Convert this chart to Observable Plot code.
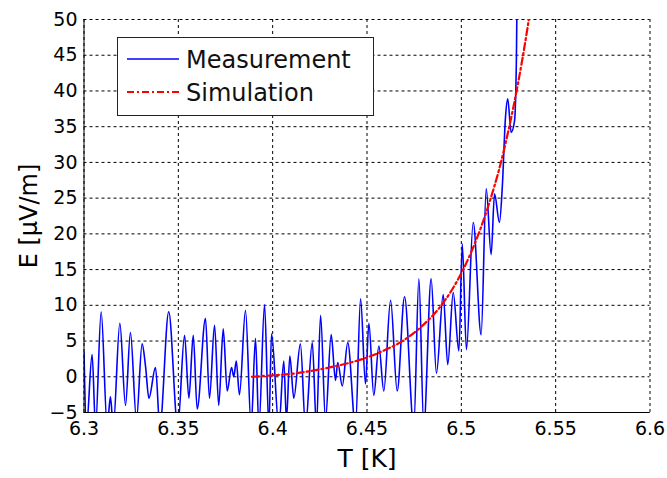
<!DOCTYPE html>
<html>
<head>
<meta charset="utf-8">
<script src="https://cdn.jsdelivr.net/npm/d3@7"></script>
<script src="https://cdn.jsdelivr.net/npm/@observablehq/plot@0.6"></script>
<style>
  html, body { margin: 0; padding: 0; background: #fff; }
  #chart svg { display: block; }
</style>
</head>
<body>
<div id="chart"></div>
<script>
const measT = [
  6.3000, 6.3013, 6.3043, 6.3061, 6.3091, 6.3123, 6.3140, 6.3155, 6.3190, 6.3220,
  6.3246, 6.3278, 6.3308, 6.3326, 6.3344, 6.3379, 6.3402, 6.3449, 6.3497, 6.3533,
  6.3556, 6.3579, 6.3600, 6.3644, 6.3665, 6.3692, 6.3714, 6.3738, 6.3759, 6.3782,
  6.3794, 6.3807, 6.3824, 6.3856, 6.3886, 6.3909, 6.3927, 6.3957, 6.3980, 6.3994,
  6.4033, 6.4059, 6.4073, 6.4091, 6.4112, 6.4147, 6.4174, 6.4210, 6.4232, 6.4254,
  6.4280, 6.4310, 6.4333, 6.4345, 6.4369, 6.4398, 6.4439, 6.4466, 6.4492, 6.4510,
  6.4536, 6.4563, 6.4589, 6.4625, 6.4660, 6.4699, 6.4748, 6.4775, 6.4801, 6.4840,
  6.4868, 6.4904, 6.4928, 6.4957, 6.4987, 6.5005, 6.5027, 6.5063, 6.5105, 6.5132,
  6.5158, 6.5176, 6.5202, 6.5217, 6.5234, 6.5246, 6.5264, 6.5282, 6.5292, 6.5296
];
const measE = [
  3.4, -7, 3.1, -7, 9.1, -7, -2.8, -7, 7.5, -4,
  6.2, -6, 4.6, 1.5, -3, 1.3, -7, 9.1, -7, 5.8,
  -3, 5.8, -4.5, 8.2, -3, 7.2, -4, 6.7, -2, 1.3,
  0, 2.2, -2.5, 9.3, -7, 5.4, -7, 10.1, -7, 6.0,
  -7, 2.2, -6, 2.9, -3, 4.6, -7, 4.8, -7, 8.6,
  -6, 5.9, -0.5, 2, -1.3, 4.8, -7, 10.9, -1, 7.5,
  -2.6, 4.3, -2, 10.7, -2, 11.2, -7, 13.7, -7, 13.7,
  0.5, 11.5, 1.7, 11.8, 3.6, 18.6, 3.8, 21.6, 5.9, 26.3,
  17.1, 25.6, 21.6, 26.5, 36.3, 38.9, 34.2, 35.8, 44.7, 55
];

// Simulation
const simT = [6.389, 6.40, 6.41, 6.42, 6.43, 6.44, 6.45, 6.46, 6.47, 6.48, 6.49, 6.50, 6.505, 6.51, 6.515, 6.52, 6.525, 6.53, 6.535, 6.538];
const simE = [0, 0.2, 0.4, 0.8, 1.3, 1.9, 2.7, 3.8, 5.2, 7.3, 10.2, 14.5, 17.3, 20.6, 24.5, 29.0, 34.5, 41.0, 48.7, 54];

const xTicks = [6.3, 6.35, 6.4, 6.45, 6.5, 6.55, 6.6];
const yTicks = [-5, 0, 5, 10, 15, 20, 25, 30, 35, 40, 45, 50];
const seriesNames = ["Measurement", "Simulation"];
const xLabel = "T [K]";
const yLabel = "E [\u03BCV/m]";

const meas = measT.map((t, i) => ({T: t, E: measE[i]}));
const sim = simT.map((t, i) => ({T: t, E: simE[i]}));

const FONT = "DejaVu Sans";
const chart = Plot.plot({
  width: 667,
  height: 478,
  marginLeft: 83.5,
  marginRight: 17.5,
  marginTop: 19,
  marginBottom: 66,
  style: {fontFamily: FONT, background: "#fff", color: "#000"},
  x: {domain: [6.3, 6.6]},
  y: {domain: [-5, 50]},
  marks: [
    Plot.gridX(xTicks, {stroke: "#000", strokeOpacity: 1, strokeDasharray: "3,3"}),
    Plot.gridY(yTicks, {stroke: "#000", strokeOpacity: 1, strokeDasharray: "3,3"}),
    Plot.line(meas, {x: "T", y: "E", stroke: "#0000ff", strokeWidth: 1.6, curve: "monotone-x", clip: true}),
    Plot.line(sim, {x: "T", y: "E", stroke: "#ff0000", strokeWidth: 2.2, strokeDasharray: "7,3,2,3", curve: "monotone-x", clip: true}),
    Plot.ruleX([6.3], {stroke: "#000", strokeWidth: 1}),
    Plot.ruleY([-5], {stroke: "#000", strokeWidth: 1}),
    Plot.axisX(xTicks, {tickSize: 0, tickPadding: 9, fontSize: 19, label: null,
      tickFormat: d => String(+d.toFixed(2))}),
    Plot.axisY(yTicks, {tickSize: 0, tickPadding: 6.5, fontSize: 19, label: null}),
    Plot.text([xLabel], {frameAnchor: "bottom", lineAnchor: "middle", textAnchor: "middle", dy: 46, fontSize: 25, fill: "#000"}),
    Plot.text([yLabel], {frameAnchor: "left", lineAnchor: "middle", textAnchor: "middle", dx: -54.5, rotate: -90, fontSize: 24, fill: "#000"})
  ]
});
document.getElementById("chart").appendChild(chart);

// Legend drawn inside the plot area
const svg = d3.select(chart);
const lg = svg.append("g").attr("font-family", FONT).attr("font-size", 24).attr("text-anchor", "start");
lg.append("rect").attr("x", 117.5).attr("y", 37.5).attr("width", 256).attr("height", 78)
  .attr("fill", "#fff").attr("stroke", "#222").attr("stroke-width", 1);
const rows = [
  {name: seriesNames[0], color: "#0000ff", dash: null, w: 1.4, y: 59},
  {name: seriesNames[1], color: "#ff0000", dash: "7,3,2,3", w: 2.2, y: 92}
];
rows.forEach(r => {
  lg.append("line").attr("x1", 127).attr("x2", 179).attr("y1", r.y).attr("y2", r.y)
    .attr("stroke", r.color).attr("stroke-width", r.w).attr("stroke-dasharray", r.dash);
  lg.append("text").attr("x", 186).attr("y", r.y + 8.5).attr("text-anchor", "start").attr("fill", "#111").text(r.name);
});
</script>
</body>
</html>
